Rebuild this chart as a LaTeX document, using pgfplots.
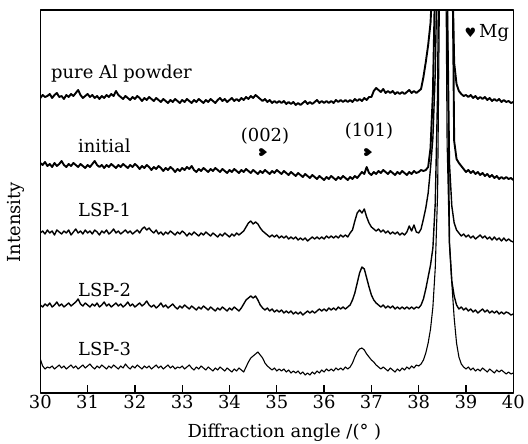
\documentclass[border=0pt]{standalone}
\usepackage{pgfplots}
\pgfplotsset{compat=1.18}
\usepackage{pgfplotstable}
\usepackage{fontspec}
\setmainfont{DejaVu Serif}
\newfontfamily\sym{DejaVu Sans}

\pgfplotstableread{
x A B C D E
30.00 295 230 160 88 34
30.05 298 228 162 86 27
30.10 296 231 159 89 24
30.15 297 227 163 87 26
30.20 299 229 160 90 25
30.25 295 226 162 86 27
30.30 298 230 158 88 24
30.35 300 227 163 91 26
30.40 296 229 161 87 28
30.45 297 232 159 89 25
30.50 294 228 162 86 27
30.55 298 226 160 88 24
30.60 296 229 163 90 26
30.65 299 227 158 87 28
30.70 297 230 161 89 25
30.75 300 228 164 91 27
30.80 303 226 160 94 24
30.85 298 229 162 89 26
30.90 295 227 159 87 28
30.95 297 225 163 90 25
31.00 299 228 160 88 27
31.05 296 226 162 86 29
31.10 298 229 159 89 26
31.15 295 232 163 87 24
31.20 297 228 161 90 27
31.25 294 226 158 86 25
31.30 297 228 162 88 28
31.35 295 225 160 91 26
31.40 298 228 163 87 24
31.45 296 226 159 89 27
31.50 299 229 161 86 25
31.55 297 227 164 88 28
31.60 302 225 160 90 26
31.65 298 228 162 87 24
31.70 296 226 159 89 27
31.75 294 229 161 86 25
31.80 297 227 163 88 29
31.85 295 225 160 91 26
31.90 293 228 162 87 24
31.95 296 226 159 89 27
32.00 294 229 161 86 25
32.05 297 227 163 88 28
32.10 295 224 160 90 26
32.15 292 227 164 87 24
32.20 295 225 166 89 27
32.25 293 228 163 92 25
32.30 296 226 165 88 27
32.35 294 223 162 86 24
32.40 292 226 160 88 26
32.45 295 224 163 85 28
32.50 293 227 159 87 25
32.55 291 225 161 90 27
32.60 294 222 158 86 24
32.65 292 225 161 88 26
32.70 290 223 159 85 28
32.75 293 226 162 87 25
32.80 291 224 160 89 27
32.85 294 221 158 86 24
32.90 292 224 161 84 26
32.95 290 222 159 87 25
33.00 293 225 162 85 27
33.05 291 223 160 88 24
33.10 294 226 157 86 26
33.15 292 224 160 84 28
33.20 290 227 158 87 25
33.25 293 223 161 85 23
33.30 291 221 159 83 26
33.35 294 224 157 86 24
33.40 292 222 160 84 27
33.45 290 225 158 87 25
33.50 293 223 161 85 23
33.55 291 221 159 83 26
33.60 294 224 157 86 24
33.65 292 222 160 84 22
33.70 290 225 158 82 25
33.75 293 223 156 85 23
33.80 295 221 159 83 26
33.85 292 224 157 86 24
33.90 294 222 160 84 22
33.95 291 220 158 82 25
34.00 293 223 156 85 23
34.05 295 221 159 83 21
34.10 292 224 157 86 24
34.15 294 222 160 84 22
34.20 292 220 158 82 25
34.25 295 223 160 85 23
34.30 293 221 162 89 21
34.35 296 224 166 93 26
34.40 294 222 170 95 31
34.45 297 220 172 97 35
34.50 295 223 169 95 37
34.55 298 221 171 97 39
34.60 296 219 169 93 41
34.65 294 222 165 88 38
34.70 292 220 162 85 35
34.75 294 223 160 83 30
34.80 291 221 158 85 27
34.85 293 219 156 82 25
34.90 290 222 158 84 23
34.95 292 220 156 81 25
35.00 290 223 158 83 22
35.05 292 221 155 81 24
35.10 290 219 157 83 22
35.15 292 222 155 80 24
35.20 289 220 157 82 21
35.25 291 218 154 80 23
35.30 289 221 156 82 20
35.35 291 219 154 79 22
35.40 288 217 156 81 20
35.45 290 220 153 79 22
35.50 288 218 155 81 19
35.55 290 216 153 78 21
35.60 292 219 155 80 18
35.65 289 217 152 82 20
35.70 291 215 154 80 18
35.75 289 218 156 82 21
35.80 291 216 154 80 19
35.85 293 214 156 82 22
35.90 290 217 154 84 20
35.95 292 215 156 82 23
36.00 290 213 154 84 21
36.05 292 216 157 82 24
36.10 290 214 155 85 22
36.15 292 217 157 83 24
36.20 290 215 155 85 22
36.25 293 213 157 83 25
36.30 291 216 155 86 23
36.35 293 214 158 84 25
36.40 291 217 156 86 23
36.45 293 215 158 84 26
36.50 291 213 156 86 24
36.55 293 216 160 88 26
36.60 291 214 163 93 30
36.65 294 217 172 100 36
36.70 292 215 180 110 41
36.75 294 218 183 120 44
36.80 292 221 180 126 45
36.85 295 219 184 124 43
36.90 293 226 176 115 39
36.95 296 220 170 106 36
37.00 296 218 166 98 33
37.05 302 221 164 93 31
37.10 305 219 162 90 28
37.15 303 222 164 88 26
37.20 301 220 161 86 24
37.25 304 223 163 88 26
37.30 300 221 160 85 24
37.35 302 219 162 87 22
37.40 300 222 159 85 25
37.45 302 220 161 87 23
37.50 299 218 159 84 21
37.55 301 221 161 86 24
37.60 299 219 158 84 22
37.65 301 222 160 86 25
37.70 299 220 158 84 23
37.75 301 218 161 86 26
37.80 303 221 167 84 24
37.85 300 219 162 86 27
37.90 302 222 168 84 25
37.95 300 220 161 86 28
38.00 302 221 160 85 27
38.05 304 223 164 88 29
38.10 316 222 174 94 33
38.15 331 223 185 104 40
38.20 348 226 200 116 50
38.25 370 245 225 128 64
38.30 420 300 255 145 86
38.35 520 420 320 190 125
38.40 700 700 450 300 200
38.45 900 900 800 600 450
38.50 900 900 900 900 900
38.55 900 900 800 700 600
38.60 800 800 420 400 250
38.65 600 700 230 150 150
38.70 450 500 187 112 110
38.75 330 252 170 97 75
38.80 309 234 163 88 50
38.85 302 230 160 84 36
38.90 299 227 157 86 29
38.95 297 224 159 83 26
39.00 298 221 156 85 24
39.05 296 223 158 82 26
39.10 298 220 155 84 23
39.15 295 222 157 81 25
39.20 297 219 154 83 22
39.25 294 221 156 80 24
39.30 296 218 158 82 22
39.35 294 220 155 84 25
39.40 296 217 157 81 23
39.45 293 219 154 83 21
39.50 295 216 156 80 24
39.55 292 218 153 82 22
39.60 294 215 156 80 20
39.65 292 217 153 82 23
39.70 294 214 155 79 21
39.75 291 216 152 81 23
39.80 293 214 155 79 21
39.85 291 216 152 81 19
39.90 292 214 154 80 21
39.95 290 215 152 78 19
40.00 291 213 151 79 20
}\xrd

\begin{document}
\fontsize{18}{21}\selectfont
\begin{tikzpicture}[font=\fontsize{18}{21}\selectfont]
\useasboundingbox (-40.3bp,-51bp) rectangle (487.7bp,393bp);
\begin{axis}[
 at={(0,0)}, anchor=south west,
 width=473bp, height=383bp, scale only axis,
 xmin=30, xmax=40, ymin=0, ymax=383,
 xtick={30,31,...,40}, ytick=\empty,
 xtick pos=bottom, tick align=inside, major tick length=8bp,
 axis line style={line width=1.4bp},
 every tick/.style={black, line width=1.3bp},
 /pgf/number format/assume math mode=true,
 xticklabel style={anchor=base, yshift=-15.5bp},
 xlabel={Diffraction angle /(°~)},
 xlabel style={at={(axis description cs:0.516,0)}, anchor=base, yshift=-44bp},
 ylabel={Intensity},
 ylabel style={at={(axis description cs:-0.0514,0.446)}, anchor=center},
 line join=round,
]
\addplot[black, line width=1.9bp] table[x=x,y=A]{\xrd};
\addplot[black, line width=1.9bp] table[x=x,y=B]{\xrd};
\addplot[black, line width=1.4bp] table[x=x,y=C]{\xrd};
\addplot[black, line width=1.4bp] table[x=x,y=D]{\xrd};
\addplot[black, line width=1.1bp] table[x=x,y=E]{\xrd};

\node[anchor=base west] at (axis cs:30.1,314) {pure Al powder};
\node[anchor=base west] at (axis cs:30.67,240) {initial};
\node[anchor=base west] at (axis cs:30.67,176) {LSP-1};
\node[anchor=base west] at (axis cs:30.67,96) {LSP-2};
\node[anchor=base west] at (axis cs:30.67,38) {LSP-3};
\node[anchor=base] at (axis cs:34.75,251) {(002)};
\node[anchor=base] at (axis cs:36.95,256) {(101)};
\node[rotate=90, inner sep=0pt, font=\sym\fontsize{11}{11}\selectfont] at (axis cs:34.71,240) {♥};
\node[rotate=90, inner sep=0pt, font=\sym\fontsize{11}{11}\selectfont] at (axis cs:36.93,240) {♥};
\node[anchor=base west] at (axis cs:38.84,355) {{\sym\fontsize{13}{13}\selectfont ♥}\,Mg};
\end{axis}
\end{tikzpicture}
\end{document}
